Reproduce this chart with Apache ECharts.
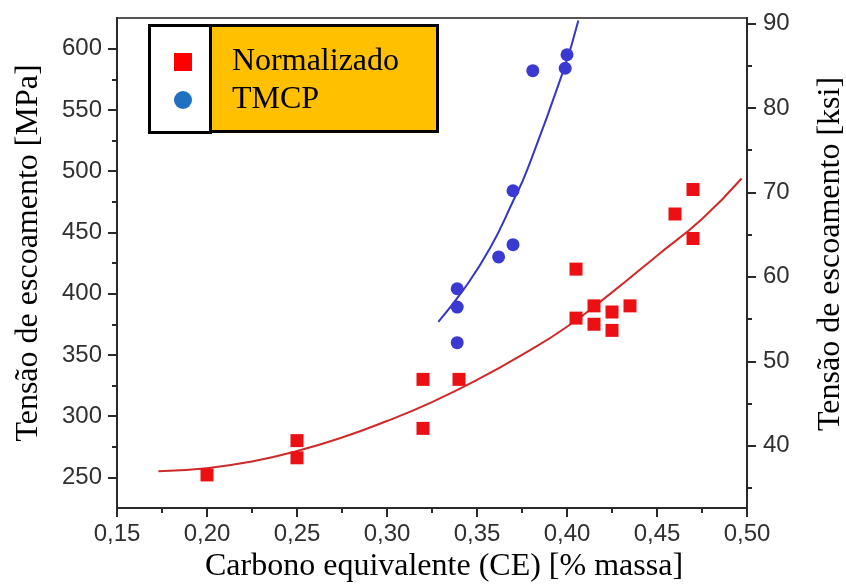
<!DOCTYPE html>
<html>
<head>
<meta charset="utf-8">
<script src="https://cdn.jsdelivr.net/npm/echarts@6/dist/echarts.min.js"></script>
<style>
html,body{margin:0;padding:0;background:#fff;}
#chart{width:846px;height:584px;}
</style>
</head>
<body>
<div id="chart"></div>
<script>
// ---- tick labels ----
var xTicks = [0.15, 0.20, 0.25, 0.30, 0.35, 0.40, 0.45, 0.50];
var mpaTicks = [250, 300, 350, 400, 450, 500, 550, 600];
var mpaMinor = [275, 325, 375, 425, 475, 525, 575];
var ksiTicks = [40, 50, 60, 70, 80, 90];
var ksiMinor = [35, 45, 55, 65, 75, 85];

// ---- series: Normalizado ----
var normCE  = [0.20, 0.25, 0.25, 0.32, 0.32, 0.34, 0.405, 0.405, 0.415, 0.415, 0.425, 0.425, 0.435, 0.46, 0.47, 0.47];
var normMPa = [252, 280, 266, 330, 290, 330, 420, 380, 390, 375, 385, 370, 390, 465, 485, 445];

// ---- series: TMCP ----
var tmcpCE  = [0.339, 0.339, 0.339, 0.362, 0.370, 0.370, 0.381, 0.399, 0.400];
var tmcpMPa = [404, 389, 360, 430, 440, 484, 582, 584, 595];

// ---- fitted curves ----
var normFitCE  = [0.173, 0.200, 0.225, 0.250, 0.275, 0.300, 0.325, 0.350, 0.375, 0.400, 0.425, 0.450, 0.475, 0.497];
var normFitMPa = [255, 257.5, 263, 271.5, 282.5, 296, 311.5, 329.5, 350, 373, 401, 431, 461, 494];
var tmcpFitCE  = [0.3285, 0.3424, 0.3572, 0.3702, 0.3776, 0.398, 0.4063];
var tmcpFitMPa = [377, 403, 437, 476, 500, 582, 623];

var MPA_MIN = 225, MPA_MAX = 625, MPA_PER_KSI = 6.895;

function zip(a, b) { return a.map(function (v, i) { return [v, b[i]]; }); }

var tickFont = 'Liberation Sans, Arial, sans-serif';
var serif = 'Liberation Serif, Times New Roman, serif';
var axisColor = '#2a2a2a';
var tickColor = '#303030';

var chart = echarts.init(document.getElementById('chart'), null, {renderer: 'canvas'});
chart.setOption({
  animation: false,
  backgroundColor: '#fff',
  grid: {left: 117, right: 99, top: 18, bottom: 76, show: true, borderColor: '#555', borderWidth: 2,
    backgroundColor: 'transparent', containLabel: false, outerBoundsMode: 'none'},
  xAxis: {
    type: 'value', min: 0.15, max: 0.50, interval: 0.05,
    name: 'Carbono equivalente (CE) [% massa]', nameLocation: 'middle', nameGap: 42,
    nameTextStyle: {fontFamily: serif, fontSize: 32, color: '#000', padding: [0, 0, 0, 24]},
    axisLine: {lineStyle: {color: axisColor, width: 2}},
    axisTick: {length: 9, lineStyle: {color: axisColor, width: 2}, customValues: xTicks},
    minorTick: {show: true, splitNumber: 2, length: 5, lineStyle: {color: axisColor, width: 2}},
    axisLabel: {customValues: xTicks, fontFamily: tickFont, fontSize: 24, color: tickColor, margin: 14,
      formatter: function (v) { return v.toFixed(2).replace('.', ','); }},
    splitLine: {show: false}, minorSplitLine: {show: false}
  },
  yAxis: [
    {
      type: 'value', position: 'left', min: MPA_MIN, max: MPA_MAX,
      name: 'Tensão de escoamento [MPa]', nameLocation: 'middle', nameGap: 72, nameRotate: 90,
      nameTextStyle: {fontFamily: serif, fontSize: 32, color: '#000', padding: [0, 0, 0, 20]},
      axisLine: {show: true, lineStyle: {color: axisColor, width: 2}},
      axisTick: {show: true, length: 9, customValues: mpaTicks, lineStyle: {color: axisColor, width: 2}},
      axisLabel: {customValues: mpaTicks, fontFamily: tickFont, fontSize: 24, color: tickColor, margin: 15},
      splitLine: {show: false}
    },
    {
      type: 'value', position: 'left', min: MPA_MIN, max: MPA_MAX,
      axisLine: {show: false},
      axisTick: {show: true, length: 5, customValues: mpaMinor, lineStyle: {color: axisColor, width: 2}},
      axisLabel: {show: false}, splitLine: {show: false}
    },
    {
      type: 'value', position: 'right', min: MPA_MIN / MPA_PER_KSI, max: MPA_MAX / MPA_PER_KSI,
      name: 'Tensão de escoamento [ksi]', nameLocation: 'middle', nameGap: 68, nameRotate: 90,
      nameTextStyle: {fontFamily: serif, fontSize: 32, color: '#000', padding: [0, 0, 0, 18]},
      axisLine: {show: true, lineStyle: {color: axisColor, width: 2}},
      axisTick: {show: true, length: 9, customValues: ksiTicks, lineStyle: {color: axisColor, width: 2}},
      axisLabel: {customValues: ksiTicks, fontFamily: tickFont, fontSize: 24, color: tickColor, margin: 16},
      splitLine: {show: false}
    },
    {
      type: 'value', position: 'right', min: MPA_MIN / MPA_PER_KSI, max: MPA_MAX / MPA_PER_KSI,
      axisLine: {show: false},
      axisTick: {show: true, length: 5, customValues: ksiMinor, lineStyle: {color: axisColor, width: 2}},
      axisLabel: {show: false}, splitLine: {show: false}
    }
  ],
  legend: {
    orient: 'vertical', left: 174, top: 46, padding: 0, itemGap: 6,
    itemWidth: 18, itemHeight: 18, z: 10,
    textStyle: {fontFamily: serif, fontSize: 32, color: '#000', padding: [0, 0, 0, 35]},
    data: [
      {name: 'Normalizado', icon: 'rect', itemStyle: {color: '#ff0000', opacity: 1}},
      {name: 'TMCP', icon: 'circle', itemStyle: {color: '#1f70c1', opacity: 1}}
    ]
  },
  graphic: [
    {type: 'rect', z: 5, shape: {x: 149.5, y: 25.5, width: 61, height: 107},
      style: {fill: '#fff', stroke: '#000', lineWidth: 3}},
    {type: 'rect', z: 5, shape: {x: 210.5, y: 25.5, width: 227, height: 106},
      style: {fill: '#ffc000', stroke: '#000', lineWidth: 3}}
  ],
  series: [
    {name: 'fitNorm', type: 'line', data: zip(normFitCE, normFitMPa), smooth: true, showSymbol: false,
      lineStyle: {color: '#cf2a2a', width: 2}, z: 2, silent: true},
    {name: 'fitTMCP', type: 'line', data: zip(tmcpFitCE, tmcpFitMPa), smooth: true, showSymbol: false,
      lineStyle: {color: '#3636c4', width: 2}, z: 2, silent: true},
    {name: 'Normalizado', type: 'scatter', data: zip(normCE, normMPa), symbol: 'rect', symbolSize: 13,
      itemStyle: {color: '#ec1014', opacity: 1}, z: 3},
    {name: 'TMCP', type: 'scatter', data: zip(tmcpCE, tmcpMPa), symbol: 'circle', symbolSize: 13,
      itemStyle: {color: '#3a3ad2', opacity: 1}, z: 3}
  ]
});
</script>
</body>
</html>
